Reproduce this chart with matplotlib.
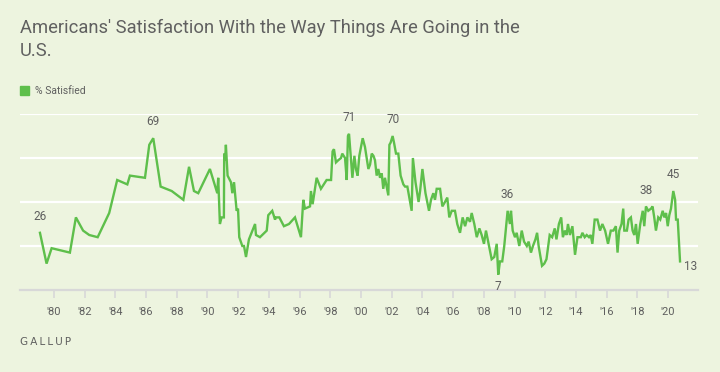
import numpy as np
import matplotlib
matplotlib.use("Agg")
import matplotlib.pyplot as plt

# Gallup: % satisfied with the way things are going in the U.S.
dates = [
    1979.09, 1979.52, 1979.85, 1981.04, 1981.43, 1981.90, 1982.30, 1982.85, 1983.60,
    1984.12, 1984.78, 1984.95, 1985.93, 1986.21, 1986.47, 1986.95, 1987.67, 1988.43,
    1988.80, 1989.12, 1989.40, 1990.16, 1990.64, 1990.70, 1990.81, 1990.92, 1991.07,
    1991.09, 1991.15, 1991.20, 1991.31, 1991.53, 1991.62, 1991.73, 1991.90, 1991.99,
    1992.07, 1992.27, 1992.38, 1992.51, 1992.70, 1993.10, 1993.16, 1993.42, 1993.86,
    1993.96, 1994.22, 1994.40, 1994.46, 1994.68, 1994.98, 1995.31, 1995.70, 1996.09,
    1996.24, 1996.35, 1996.68, 1996.74, 1996.85, 1997.00, 1997.11, 1997.39, 1997.76,
    1998.05, 1998.15, 1998.24, 1998.37, 1998.52, 1998.70, 1998.78, 1998.96, 1999.07,
    1999.15, 1999.22, 1999.44, 1999.57, 1999.67, 1999.78, 1999.89, 2000.11, 2000.26,
    2000.48, 2000.59, 2000.70, 2000.81, 2000.91, 2001.02, 2001.13, 2001.24, 2001.35,
    2001.45, 2001.56, 2001.78, 2001.85, 2001.93, 2002.06, 2002.15, 2002.28, 2002.43,
    2002.58, 2002.76, 2002.87, 2003.02, 2003.30, 2003.38, 2003.55, 2003.75, 2003.85,
    2004.00, 2004.20, 2004.43, 2004.56, 2004.71, 2004.82, 2004.93, 2005.15, 2005.30,
    2005.47, 2005.62, 2005.75, 2005.91, 2006.12, 2006.27, 2006.45, 2006.62, 2006.78,
    2006.93, 2007.10, 2007.21, 2007.38, 2007.54, 2007.71, 2007.86, 2008.01, 2008.14,
    2008.34, 2008.51, 2008.68, 2008.84, 2008.94, 2009.05, 2009.20, 2009.33, 2009.55,
    2009.70, 2009.77, 2009.88, 2010.03, 2010.14, 2010.31, 2010.47, 2010.62, 2010.80,
    2010.92, 2011.07, 2011.20, 2011.36, 2011.47, 2011.57, 2011.79, 2011.94, 2012.08,
    2012.29, 2012.45, 2012.62, 2012.73, 2012.89, 2013.04, 2013.15, 2013.28, 2013.39,
    2013.48, 2013.61, 2013.77, 2013.94, 2014.10, 2014.32, 2014.42, 2014.57, 2014.70,
    2014.85, 2014.96, 2015.07, 2015.22, 2015.40, 2015.57, 2015.72, 2015.90, 2016.09,
    2016.27, 2016.44, 2016.60, 2016.71, 2016.82, 2016.97, 2017.08, 2017.15, 2017.32,
    2017.43, 2017.58, 2017.69, 2017.80, 2017.91, 2018.02, 2018.19, 2018.35, 2018.45,
    2018.56, 2018.71, 2018.89, 2018.99, 2019.10, 2019.21, 2019.36, 2019.49, 2019.65,
    2019.76, 2019.87, 2019.98, 2020.08, 2020.19, 2020.34, 2020.46, 2020.52, 2020.63,
    2020.78,
]
satisfied = [
    26, 12, 19, 17, 33, 27, 25, 24, 35,
    50, 48, 52, 51, 66, 69, 47, 45, 41,
    56, 45, 44, 55, 44, 51, 30, 33, 33,
    62, 59, 66, 52, 49, 44, 49, 36, 37,
    24, 20, 20, 15, 23, 30, 25, 24, 27,
    34, 36, 32, 33, 33, 29, 30, 33, 24,
    41, 37, 38, 45, 39, 46, 51, 46, 50,
    50, 63, 64, 58, 59, 60, 62, 60, 50,
    70, 71, 51, 61, 55, 52, 61, 69, 65,
    55, 57, 62, 61, 59, 52, 55, 51, 53,
    46, 51, 43, 66, 67, 70, 67, 62, 62,
    52, 48, 47, 47, 36, 60, 49, 40, 45,
    55, 44, 36, 41, 44, 41, 46, 46, 38,
    40, 42, 33, 36, 36, 30, 26, 33, 29,
    33, 31, 35, 30, 24, 28, 25, 21, 27,
    20, 14, 15, 21, 7, 13, 13, 20, 36,
    30, 36, 27, 24, 26, 20, 27, 22, 20,
    22, 17, 20, 23, 26, 20, 11, 12, 14,
    25, 24, 28, 23, 30, 33, 24, 27, 25,
    30, 25, 29, 16, 24, 24, 26, 24, 25,
    24, 25, 21, 32, 32, 27, 30, 27, 21,
    27, 27, 29, 17, 27, 30, 37, 27, 27,
    32, 33, 27, 25, 30, 21, 30, 36, 29,
    38, 36, 37, 38, 33, 27, 33, 32, 36,
    33, 35, 29, 34, 37, 45, 41, 32, 32,
    13,
]

year_ticks = list(range(1980, 2021, 2))
year_labels = ["'" + str(y)[2:] for y in year_ticks]

# labelled points: (date, where)
callouts = [(1979.09, "up"), (1986.47, "up"), (1999.22, "up"), (2002.06, "up"),
            (2009.55, "up"), (2008.94, "down"), (2018.56, "up"), (2020.34, "up"),
            (2020.78, "right")]

BG = "#edf4df"
GREEN = "#5ebf4b"
GREY = "#5f5f5f"

plt.rcParams["font.family"] = ["Roboto", "DejaVu Sans"]

fig = plt.figure(figsize=(7.2, 3.72), dpi=100, facecolor=BG)
ax = fig.add_axes([20 / 720, 1 - 290 / 372, 678 / 720, 176 / 372])
ax.set_facecolor(BG)

x = np.array(dates)
y = np.array(satisfied)

for g in (20, 40, 60, 80):
    ax.axhline(g, color="white", lw=1.6, zorder=1)

ax.plot(x, y, color=GREEN, lw=1.7, solid_joinstyle="miter", zorder=3)

ax.set_xlim(1977.79, 2021.95)
ax.set_ylim(0, 80)
ax.set_yticks([])
for s in ("left", "right", "top"):
    ax.spines[s].set_visible(False)
ax.spines["bottom"].set_color("#d8d8d8")
ax.spines["bottom"].set_linewidth(1.6)
ax.set_xticks(year_ticks)
ax.set_xticklabels(year_labels)
ax.tick_params(axis="x", length=6, width=1.2, color="#d8d8d8",
               labelsize=8, labelcolor=GREY, pad=6)

for d, where in callouts:
    i = int(np.argmin(np.abs(x - d)))
    if where == "up":
        off, ha, va = (0, 7), "center", "bottom"
    elif where == "down":
        off, ha, va = (0, -4), "center", "top"
    else:
        off, ha, va = (3, -4), "left", "center"
    ax.annotate(str(y[i]), (x[i], y[i]), xytext=off, textcoords="offset points",
                ha=ha, va=va, fontsize=8.5, color=GREY)

fig.text(20 / 720, 1 - 28 / 372, "Americans' Satisfaction With the Way Things Are Going in the",
         fontsize=13.2, color="#606060", va="center", ha="left")
fig.text(20 / 720, 1 - 51 / 372, "U.S.", fontsize=13.2, color="#606060", va="center", ha="left")

fig.patches.append(plt.Rectangle((20 / 720, 1 - 95 / 372), 9 / 720, 9 / 372,
                                 transform=fig.transFigure, color=GREEN, figure=fig))
fig.text(35 / 720, 1 - 90.5 / 372, "% Satisfied", fontsize=7.5, color=GREY, va="center")

fig.text(20 / 720, 1 - 342 / 372, "G A L L U P".replace(" ", "\u2009"), fontsize=7.5,
         color=GREY, va="center", family=["DejaVu Sans"])

fig.savefig("out.png", dpi=100, facecolor=BG)
